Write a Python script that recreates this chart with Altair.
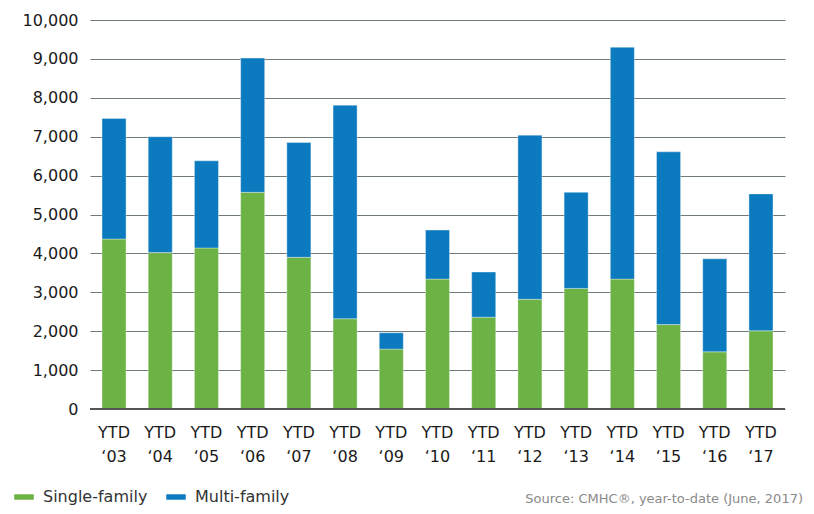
import altair as alt
import pandas as pd

years = ["‘03", "‘04", "‘05", "‘06", "‘07", "‘08", "‘09", "‘10",
         "‘11", "‘12", "‘13", "‘14", "‘15", "‘16", "‘17"]
totals = [7470, 7000, 6380, 9020, 6850, 7810, 1960, 4600,
          3520, 7040, 5570, 9300, 6610, 3860, 5530]
single = [4370, 4020, 4140, 5570, 3900, 2320, 1540, 3340,
          2360, 2820, 3100, 3340, 2170, 1470, 2010]
series = ["Single-family", "Multi-family"]
colors = ["#6cb245", "#0c7abf"]
y_ticks = [0, 1000, 2000, 3000, 4000, 5000, 6000, 7000, 8000, 9000, 10000]
source_note = "Source: CMHC®, year-to-date (June, 2017)"

cats = ["YTD " + y for y in years]
rows = []
for c, t, s in zip(cats, totals, single):
    rows.append({"period": c, "type": series[0], "value": s, "ord": 0})
    rows.append({"period": c, "type": series[1], "value": t - s, "ord": 1})
df = pd.DataFrame(rows)

FONT = "DejaVu Sans"

y_axis = alt.Axis(title=None, values=y_ticks, format=",.0f", labelOverlap=False,
                  ticks=False, domain=False, grid=True, gridColor="#6e7b79",
                  gridWidth=1, labelFont=FONT, labelFontSize=16,
                  labelColor="#1a1a1a", labelPadding=12)
y_scale = alt.Scale(domain=[0, 10000])

bars = alt.Chart(df).mark_bar(stroke="#ffffff", strokeOpacity=0.35, strokeWidth=1).encode(
    x=alt.X("period:N", sort=cats,
            scale=alt.Scale(paddingInner=0.48, paddingOuter=0.26),
            axis=alt.Axis(title=None, labelAngle=0, ticks=False, domain=False,
                          labelExpr="split(datum.label, ' ')",
                          labelFont=FONT, labelFontSize=16, labelColor="#1a1a1a",
                          labelBaseline="top", labelPadding=15, labelLineHeight=24)),
    y=alt.Y("value:Q", stack="zero", scale=y_scale, axis=y_axis),
    color=alt.Color("type:N", scale=alt.Scale(domain=series, range=colors),
                    legend=alt.Legend(title=None, orient="none", direction="horizontal",
                                      legendX=-76, legendY=467,
                                      symbolType="M-1,-0.28L1,-0.28L1,0.28L-1,0.28Z",
                                      symbolSize=380, symbolStrokeWidth=0,
                                      labelFont=FONT, labelFontSize=16, labelColor="#333333",
                                      labelOffset=9, columnPadding=18)),
    order=alt.Order("ord:Q"),
)

zero = alt.Chart(pd.DataFrame({"value": [0]})).mark_rule(color="#555555", strokeWidth=2).encode(
    y=alt.Y("value:Q", scale=y_scale, axis=y_axis)
)

note = alt.Chart(pd.DataFrame({"t": [source_note]})).mark_text(
    align="right", baseline="alphabetic", font=FONT, fontSize=13, color="#8a8a8a"
).encode(text="t:N", x=alt.value(713), y=alt.value(483))

chart = alt.layer(bars, zero, note).properties(
    width=695, height=389,
    autosize=alt.AutoSizeParams(type="none"),
    padding={"left": 82, "top": 12, "right": 21, "bottom": 97},
).configure_view(stroke=None)

chart.save("out.html", embed_options={"renderer": "svg", "actions": False})
